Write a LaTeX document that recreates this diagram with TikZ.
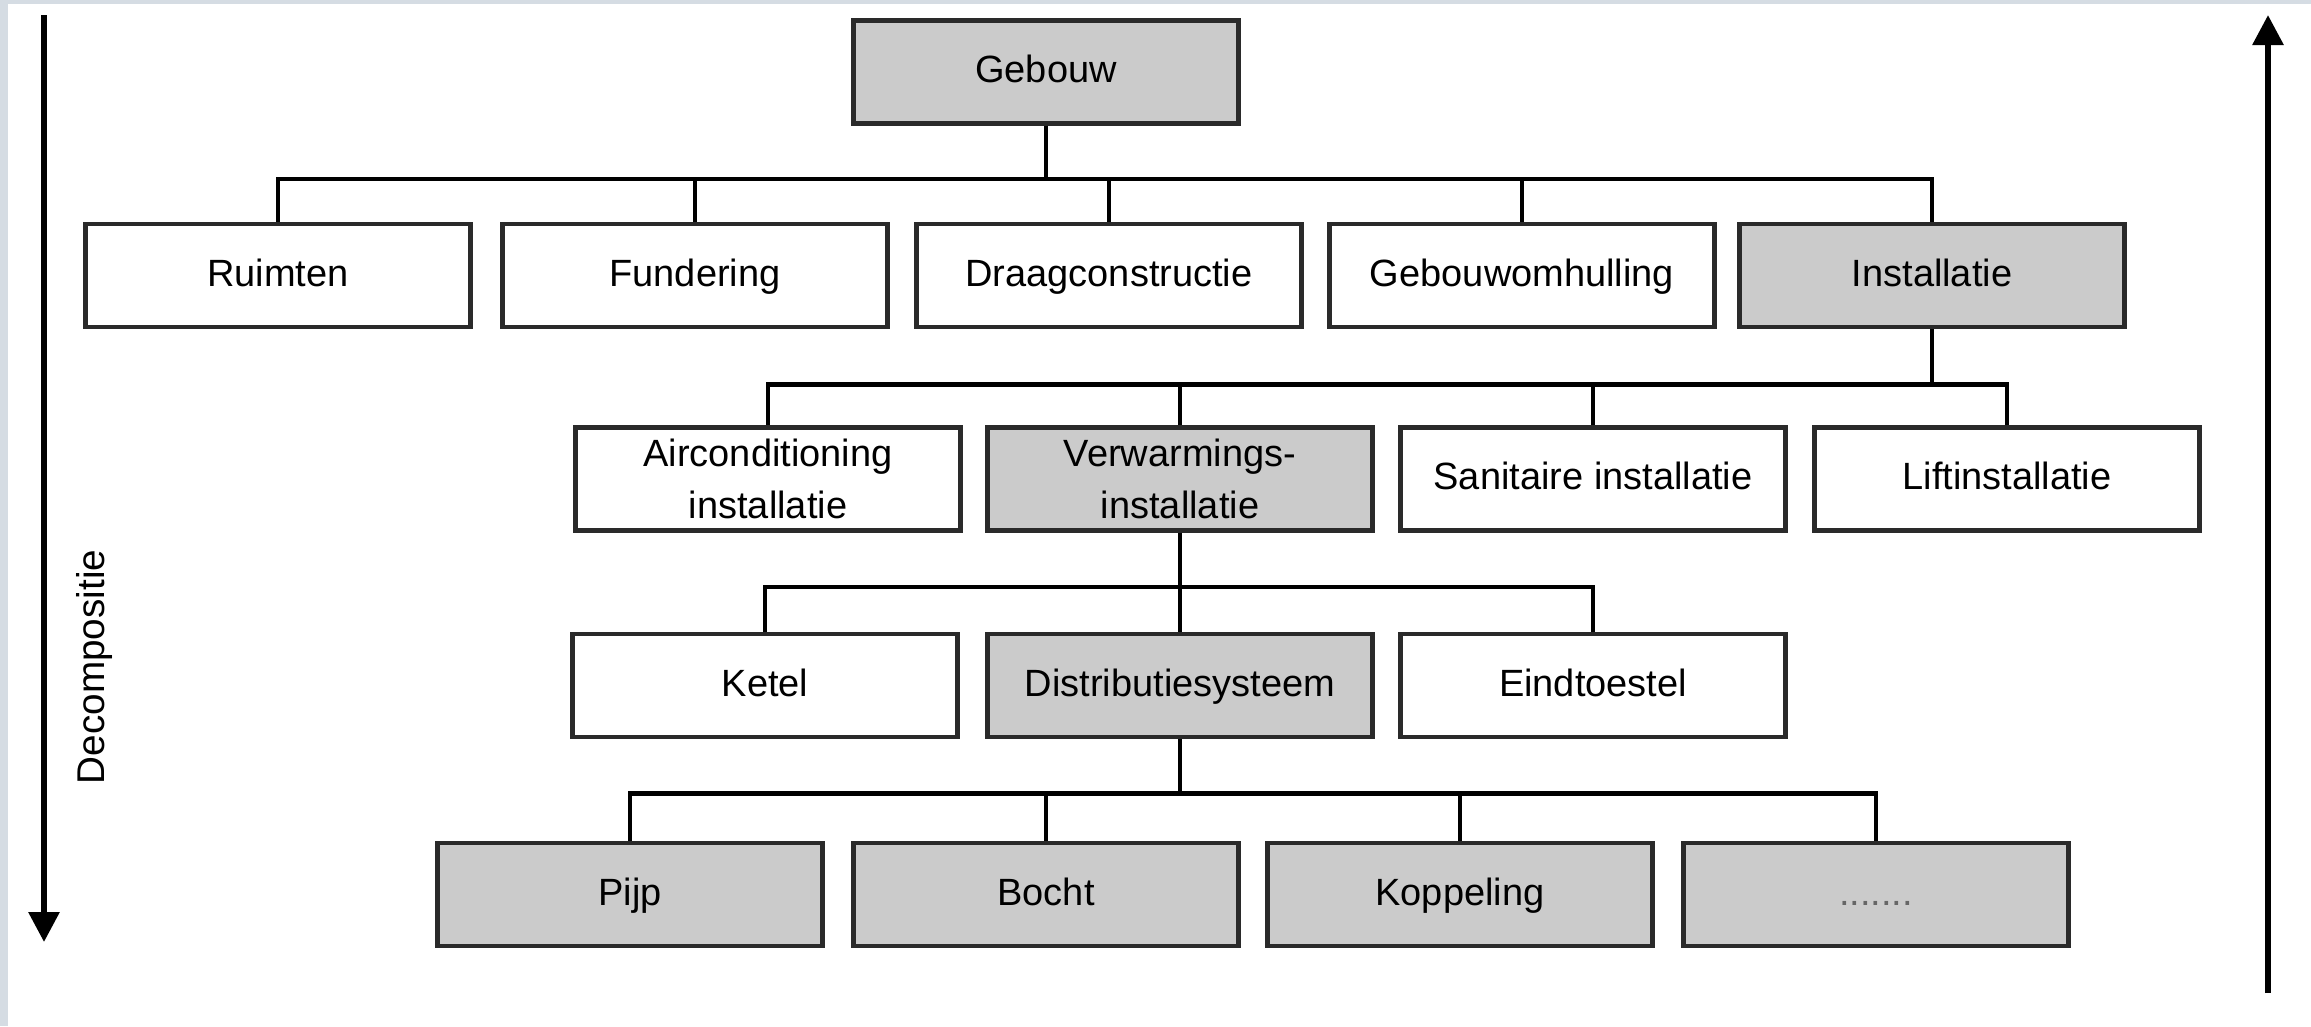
\documentclass[tikz,border=0pt]{standalone}
\usepackage{fontspec}
\setmainfont{Liberation Sans}
\usetikzlibrary{arrows.meta}
\definecolor{boxgrey}{HTML}{CBCBCB}
\definecolor{framebg}{HTML}{D5DCE3}
\definecolor{edge}{HTML}{2A2A2A}
\begin{document}
\begin{tikzpicture}[x=0.01cm,y=-0.01cm,
  boxbase/.style={draw=edge, line width=0.045cm, fill=white,
    minimum width=3.85cm, minimum height=1.03cm, inner sep=0pt,
    align=center, font=\fontsize{10.8}{15}\selectfont},
  part/.style={boxbase,
    execute at begin node=\strut, execute at end node=\strut},
  focus/.style={part, fill=boxgrey},
  twoline/.style={boxbase},
  twofocus/.style={boxbase, fill=boxgrey},
  link/.style={draw=black, line width=0.045cm},
  axis/.style={draw=black, line width=0.06cm,
    -{Triangle[length=0.3cm,width=0.3cm]}}]
% page and its frame band
\useasboundingbox (0,0) rectangle (2311,1026);
\fill[white] (0,0) rectangle (2311,1026);
\fill[framebg] (0,0) rectangle (8,1026);
\fill[framebg] (0,0) rectangle (2311,4);

% level 0
\node[focus] (gebouw) at (1046,72) {Gebouw};

% level 1
\node[part]  (ruimten)   at (278,275.5)  {Ruimten};
\node[part]  (fundering) at (695,275.5)  {Fundering};
\node[part]  (draag)     at (1109,275.5) {Draagconstructie};
\node[part]  (omhulling) at (1522,275.5) {Gebouwomhulling};
\node[focus] (install)   at (1932,275.5) {Installatie};

% level 2
\node[twoline]  (airco) at (768,479)  {Airconditioning\\installatie};
\node[twofocus] (verw)  at (1180,479) {Verwarmings-\\installatie};
\node[part]     (sani)  at (1593,479) {Sanitaire installatie};
\node[part]     (lift)  at (2007,479) {Liftinstallatie};

% level 3
\node[part]  (ketel) at (765,685.5)  {Ketel};
\node[focus] (distr) at (1180,685.5) {Distributiesysteem};
\node[part]  (eind)  at (1593,685.5) {Eindtoestel};

% level 4
\node[focus] (pijp)  at (630,894.5)  {Pijp};
\node[focus] (bocht) at (1046,894.5) {Bocht};
\node[focus] (kopp)  at (1460,894.5) {Koppeling};
\node[focus] (meer)  at (1876,894.5) {\textcolor{black!60}{.......}};

% tree connectors
\foreach \c in {ruimten,fundering,draag,omhulling,install}
  \draw[link] (gebouw.south) -- ++(0,53) -| (\c.north);
\foreach \c in {airco,verw,sani,lift}
  \draw[link] (install.south) -- ++(0,55) -| (\c.north);
\foreach \c in {ketel,distr,eind}
  \draw[link] (verw.south) -- ++(0,54) -| (\c.north);
\foreach \c in {pijp,bocht,kopp,meer}
  \draw[link] (distr.south) -- ++(0,54) -| (\c.north);

% direction arrows
\coordinate (downtop) at (44,15);
\coordinate (downend) at (44,942);
\coordinate (upbase)  at (2268,993);
\coordinate (uptip)   at (2268,15);
\draw[axis] (downtop) -- (downend);
\draw[axis] (upbase) -- (uptip);
\node[rotate=90, font=\fontsize{11}{13}\selectfont, inner sep=0pt]
  (decomp) at (94,667) {Decompositie};
\end{tikzpicture}
\end{document}
